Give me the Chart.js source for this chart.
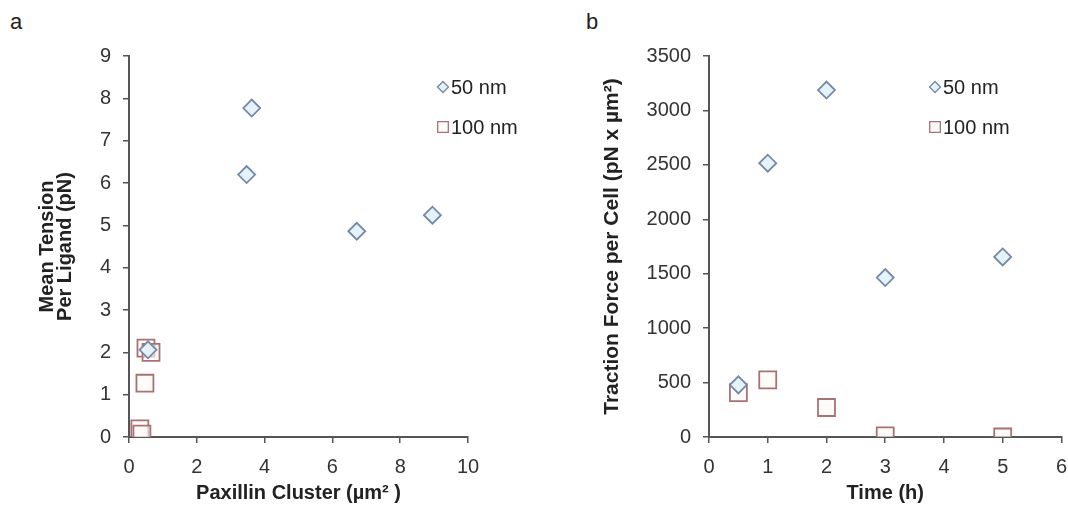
<!DOCTYPE html>
<html>
<head>
<meta charset="utf-8">
<script src="https://cdn.jsdelivr.net/npm/chart.js@4.4.1/dist/chart.umd.min.js"></script>
<style>
  body { margin: 0; background: #fff; overflow: hidden; }
  .panel { position: absolute; top: 0; width: 534px; height: 506px; }
  .tag { position: absolute; top: 9px; font: 22px "Liberation Sans", Arial, sans-serif; color: #222; }
</style>
</head>
<body>
<div class="tag" style="left:10px">a</div>
<div class="tag" style="left:586px">b</div>
<div class="panel" style="left:0"><canvas id="chart-a"></canvas></div>
<div class="panel" style="left:534px; width:545px"><canvas id="chart-b"></canvas></div>
<script>
// panel a: paxillin cluster size vs mean tension
const clusterX50 = [0.56, 3.47, 3.62, 6.72, 8.95];
const tensionY50 = [2.06, 6.2, 7.77, 4.86, 5.24];
const clusterX100 = [0.5, 0.65, 0.47, 0.32, 0.38];
const tensionY100 = [2.1, 2.0, 1.27, 0.19, 0.07];

// panel b: time vs traction force
const timeX50 = [0.5, 1, 2, 3, 5];
const forceY50 = [479, 2515, 3187, 1465, 1654];
const timeX100 = [0.5, 1, 2, 3, 5];
const forceY100 = [408, 525, 271, 10, 0];

const seriesNames = ["50 nm", "100 nm"];

const font = "'Liberation Sans', Arial, sans-serif";
const axisGray = '#555';
const diamondStyle = {
    pointStyle: 'rectRot',
    pointRadius: 8.5,
    borderColor: '#7489a6',
    backgroundColor: '#e4f2f9',
    borderWidth: 1.8
};
const squareStyle = {
    pointStyle: 'rect',
    pointRadius: 12,
    borderColor: '#a87272',
    backgroundColor: 'rgba(255,248,248,0.6)',
    borderWidth: 1.8
};

function pts(xs, ys) {
    return xs.map((x, i) => ({ x: x, y: ys[i] }));
}

// legend drawn inside the plot area
const innerLegend = {
    id: 'innerLegend',
    afterDraw(chart, args, opts) {
        const ctx = chart.ctx;
        const top = chart.chartArea.top;
        const rows = [
            { style: 'rectRot', radius: 5.5, ds: chart.data.datasets[0], dy: 31 },
            { style: 'rect', radius: 7.5, ds: chart.data.datasets[1], dy: 71 }
        ];
        ctx.save();
        rows.forEach(r => {
            const y = top + r.dy;
            ctx.fillStyle = r.ds.backgroundColor;
            ctx.strokeStyle = r.ds.borderColor;
            ctx.lineWidth = 1.3;
            Chart.helpers.drawPoint(ctx, { pointStyle: r.style, radius: r.radius, borderWidth: 1.3, rotation: 0 }, opts.x, y);
            ctx.fillStyle = '#222';
            ctx.font = '20px ' + font;
            ctx.textBaseline = 'middle';
            ctx.fillText(r.ds.label, opts.x + 8, y + 1);
        });
        ctx.restore();
    }
};

function makeOptions(cfg) {
    return {
        responsive: true,
        maintainAspectRatio: false,
        animation: false,
        layout: { padding: { left: cfg.padLeft, right: cfg.padRight, top: 56, bottom: 0 } },
        plugins: {
            legend: { display: false },
            tooltip: { enabled: false },
            innerLegend: { x: cfg.legendX }
        },
        scales: {
            x: {
                type: 'linear',
                min: 0,
                max: cfg.xMax,
                afterFit: s => { s.height = 69; },
                border: { color: axisGray, width: 2 },
                grid: { drawOnChartArea: false, color: axisGray, tickLength: 6, lineWidth: 1.5 },
                ticks: { stepSize: cfg.xStep, color: '#333', font: { family: font, size: 20 }, padding: 12 },
                title: {
                    display: true,
                    text: cfg.xTitle,
                    color: '#222',
                    font: { family: font, size: 20, weight: 'bold' },
                    padding: { top: 0, bottom: 1 }
                }
            },
            y: {
                min: 0,
                max: cfg.yMax,
                afterFit: s => { s.width = cfg.yWidth; },
                border: { color: axisGray, width: 2 },
                grid: { drawOnChartArea: false, color: axisGray, tickLength: 6, lineWidth: 1.5 },
                ticks: {
                    stepSize: cfg.yStep,
                    color: '#333',
                    font: { family: font, size: 20 },
                    padding: 12,
                    callback: v => String(v)
                },
                title: {
                    display: true,
                    text: cfg.yTitle,
                    color: '#222',
                    font: { family: font, size: cfg.yTitleSize, weight: 'bold', lineHeight: 0.9 },
                    padding: 0
                }
            }
        }
    };
}

new Chart(document.getElementById('chart-a'), {
    type: 'scatter',
    data: {
        datasets: [
            Object.assign({ label: seriesNames[0], data: pts(clusterX50, tensionY50) }, diamondStyle),
            Object.assign({ label: seriesNames[1], data: pts(clusterX100, tensionY100) }, squareStyle)
        ]
    },
    options: makeOptions({
        padLeft: 38, padRight: 66, yWidth: 91, legendX: 443,
        xMax: 10, xStep: 2, yMax: 9, yStep: 1, yTitleSize: 20,
        xTitle: 'Paxillin Cluster (\u00b5m\u00b2 )',
        yTitle: ['Mean Tension', 'Per Ligand (pN)']
    }),
    plugins: [innerLegend]
});

new Chart(document.getElementById('chart-b'), {
    type: 'scatter',
    data: {
        datasets: [
            Object.assign({ label: seriesNames[0], data: pts(timeX50, forceY50) }, diamondStyle),
            Object.assign({ label: seriesNames[1], data: pts(timeX100, forceY100) }, squareStyle)
        ]
    },
    options: makeOptions({
        padLeft: 69, padRight: 0, yWidth: 106, legendX: 401,
        xMax: 6, xStep: 1, yMax: 3500, yStep: 500, yTitleSize: 21,
        xTitle: 'Time (h)',
        yTitle: 'Traction Force per Cell (pN x \u00b5m\u00b2)'
    }),
    plugins: [innerLegend]
});
</script>
</body>
</html>
